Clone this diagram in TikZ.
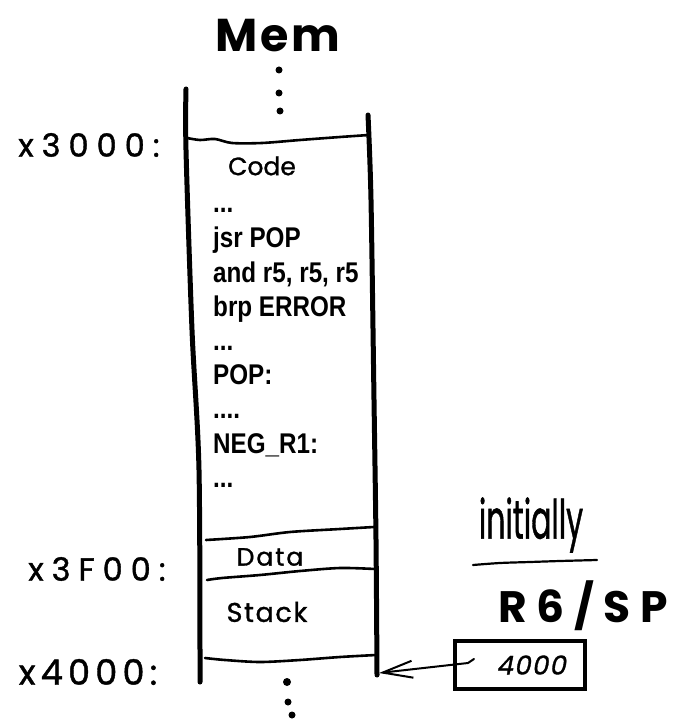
\documentclass[tikz,border=0pt]{standalone}
\usepackage{fontspec}
\setmainfont{Poppins}
\newfontfamily\codefont[FakeStretch=0.85]{Liberation Sans}
\newfontfamily\handfont[FakeBold=1.2]{Poppins}
\newfontfamily\titlefont{Poppins}
\newfontfamily\handslant[FakeSlant=0.2,FakeBold=1.2]{Poppins}
\usetikzlibrary{arrows.meta}
\begin{document}
\begin{tikzpicture}[x=1pt,y=-1pt]
\useasboundingbox (0,0) rectangle (695,719);
\tikzset{
  wall/.style={line width=5pt, line cap=round},
  divider/.style={line width=2.6pt, line cap=round},
  codeline/.style={anchor=base west, inner sep=0pt, font=\codefont\bfseries\fontsize{28.5}{30}\selectfont},
  addr/.style={inner sep=0pt, font=\handfont\fontsize{32}{32}\selectfont\addfontfeature{LetterSpace=25}},
  region/.style={inner sep=0pt, font=\handfont\fontsize{25}{25}\selectfont\addfontfeature{LetterSpace=8}},
  dot/.style={circle, fill=black, inner sep=0pt, minimum size=#1},
  regbox/.style={draw, line width=4pt, minimum width=130pt, minimum height=48pt, inner sep=0pt,
    font=\handslant\fontsize{26}{26}\selectfont\addfontfeature{LetterSpace=5}}
}
% title
\node[inner sep=0pt, font=\titlefont\bfseries\fontsize{46}{46}\selectfont\addfontfeature{LetterSpace=6}] (mem) at (278,36) {Mem};
\node[dot=7pt] (t1) at (279,70) {};
\node[dot=7pt] (t2) at (279,93) {};
\node[dot=7pt] (t3) at (280,111) {};
% memory walls
\draw[wall] plot[smooth] coordinates {(186,89) (186,150) (192,330) (199,470) (200,682)};
\draw[wall] plot[smooth] coordinates {(368,115) (371,200) (374,400) (376,540) (377,675)};
% dividers
\draw[divider] plot[smooth] coordinates {(187,138) (200,140) (215,139) (232,143) (262,143) (300,140) (340,137) (369,135)};
\draw[divider] plot[smooth] coordinates {(206,540) (250,537) (290,532) (340,529) (374,527)};
\draw[divider] plot[smooth] coordinates {(207,580) (222,578) (260,575) (300,571) (340,568) (375,569)};
\draw[divider] plot[smooth] coordinates {(205,658) (225,660) (260,662) (300,660) (340,657) (376,655)};
% addresses
\node[addr] (a1) at (89,145) {x3000:};
\node[addr] (a2) at (97,569) {x3F00:};
\node[addr, font=\handfont\fontsize{35}{35}\selectfont\addfontfeature{LetterSpace=15}] (a3) at (88,672) {x4000:};
% region labels
\node[region, font=\handfont\fontsize{25}{25}\selectfont] (code) at (262,166) {Code};
\node[region] (data) at (270,557) {Data};
\node[region, font=\handfont\fontsize{27}{27}\selectfont\addfontfeature{LetterSpace=6}] (stack) at (267,612) {Stack};
% code lines
\node[codeline] (c1) at (213,213) {...};
\node[codeline] (c2) at (213,247) {jsr POP};
\node[codeline] (c3) at (213,282) {and r5, r5, r5};
\node[codeline] (c4) at (213,316) {brp ERROR};
\node[codeline] (c5) at (213,350) {...};
\node[codeline] (c6) at (213,384) {POP:};
\node[codeline] (c7) at (213,418) {....};
\node[codeline] (c8) at (213,453) {NEG\_R1:};
\node[codeline] (c9) at (213,487) {...};
% bottom dots
\node[dot=8pt] (b1) at (287,682) {};
\node[dot=7pt] (b2) at (288,702) {};
\node[dot=7pt] (b3) at (292,715) {};
% register
\node[inner sep=0pt] (init) at (531,525) {\scalebox{1}[1.8]{\handfont\fontsize{30}{30}\selectfont initially}};
\draw[line width=2.2pt, line cap=round] plot[smooth] coordinates {(473,565) (500,563) (530,562) (560,561) (597,560)};
\node[inner sep=0pt, font=\titlefont\bfseries\fontsize{44}{44}\selectfont\addfontfeature{LetterSpace=22}] (reg) at (583,606) {R6/SP};
\node[regbox] (box) at (520,665) {\hspace*{22pt}4000};
\coordinate (src) at (474,659);
\coordinate (tip) at (379,673);
\draw[line width=2pt, line cap=round, -{Straight Barb[length=30pt, width=17pt, line width=2pt]}]
  (src) -- ++(-6,4) -- (tip);
\end{tikzpicture}
\end{document}
